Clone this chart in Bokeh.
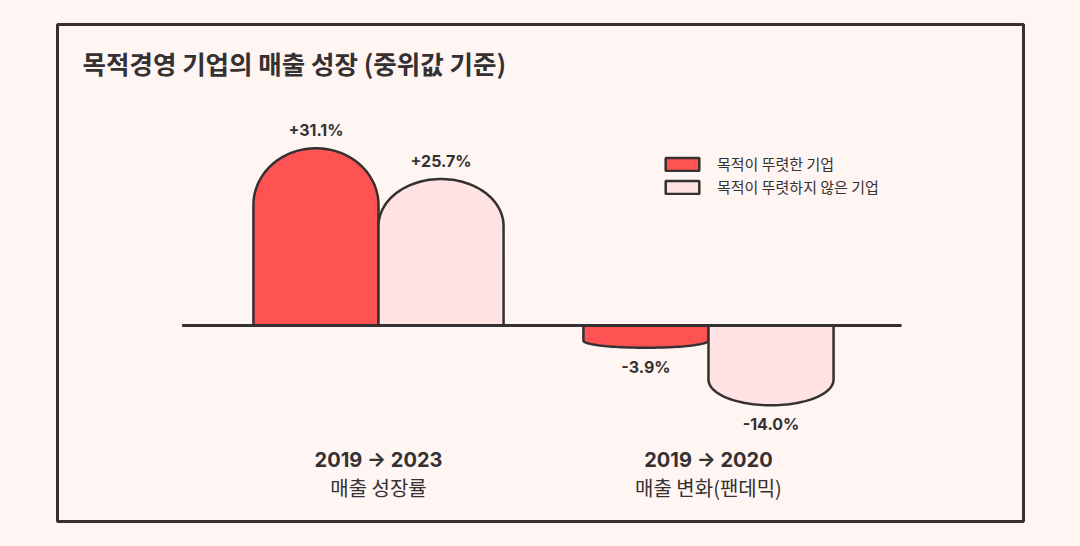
import numpy as np
from bokeh.plotting import figure
from bokeh.models import Range1d, Label, Legend, LegendItem, ColumnDataSource
from bokeh.core.properties import value
from bokeh.embed import file_html
from bokeh.resources import INLINE

# ---- data ----
groups = ["2019 → 2023", "2019 → 2020"]
group_sub = ["매출 성장률", "매출 변화(팬데믹)"]
series_names = ["목적이 뚜렷한 기업", "목적이 뚜렷하지 않은 기업"]
purpose_vals = [31.1, -3.9]
nonpurpose_vals = [25.7, -14.0]
title_text = "목적경영 기업의 매출 성장 (중위값 기준)"

# ---- style ----
BG = "#fff5f3"
INK = "#353131"
RED = "#ff5252"
PINK = "#ffe2e2"
KR = "Noto Sans CJK KR"
NUM = "Inter"
BAR_W = 0.379      # in group units
CAP = 0.32         # cap height as share of bar length

p = figure(width=1064, height=530, output_backend="svg", toolbar_location=None,
           x_axis_location=None, y_axis_location=None,
           x_range=Range1d(-0.4727, 2.4546), y_range=Range1d(-34.39, 52.81),
           min_border_left=49, min_border_right=49, min_border_top=16, min_border_bottom=17,
           background_fill_color=BG, border_fill_color=BG,
           outline_line_color=INK, outline_line_width=3)
p.grid.visible = False

centers = np.arange(len(groups)) + 0.5


def bar_shape(cx, v, w):
    s = 1.0 if v >= 0 else -1.0
    h = CAP * abs(v)
    ys0 = v - s * h
    th = np.linspace(0, np.pi, 60)
    ex = cx + (w / 2) * np.cos(th)
    ey = ys0 + s * h * np.sin(th)
    xs = np.concatenate([[cx - w / 2, cx + w / 2], ex, [cx - w / 2]])
    ys = np.concatenate([[0, 0], ey, [0]])
    return list(xs), list(ys)


renderers = []
for k, (vals, col) in enumerate([(purpose_vals, RED), (nonpurpose_vals, PINK)]):
    off = (-0.5 if k == 0 else 0.5) * BAR_W
    xs, ys = [], []
    for c, v in zip(centers, vals):
        a, b = bar_shape(c + off, v, BAR_W)
        xs.append(a)
        ys.append(b)
    r = p.patches(xs=xs, ys=ys, fill_color=col, line_color=INK, line_width=2.5)
    renderers.append(r)
    lx = list(centers + off)
    src = ColumnDataSource(dict(x=lx, y=vals, t=[f"{v:+.1f}%" for v in vals],
                                o=[-18 if v >= 0 else 19 for v in vals]))
    p.text(x="x", y="y", text="t", y_offset="o", source=src, text_align="center",
           text_baseline="middle", text_font=value(NUM), text_font_style="bold",
           text_font_size="16px", text_color=INK)

# zero line
p.segment(x0=[centers[0] - 0.595], y0=[0], x1=[centers[-1] + 0.585], y1=[0],
          line_color=INK, line_width=3)

# category labels
p.text(x=list(centers), y=[0] * len(centers), text=groups, y_offset=135,
       text_align="center", text_baseline="middle", text_font=value(NUM),
       text_font_style="bold", text_font_size="20px", text_color=INK)
p.text(x=list(centers), y=[0] * len(centers), text=group_sub, y_offset=162,
       text_align="center", text_baseline="middle", text_font=value(KR),
       text_font_size="20px", text_color=INK)

# title
p.add_layout(Label(x=25, y=459, x_units="screen", y_units="screen", text=title_text,
                   text_baseline="middle", text_font=KR, text_font_style="bold",
                   text_font_size="25.5px", text_color=INK))

legend = Legend(items=[LegendItem(label=n, renderers=[r]) for n, r in zip(series_names, renderers)],
                location=(604, 324), orientation="vertical",
                glyph_width=42, glyph_height=16, label_height=16, spacing=2,
                label_standoff=14, padding=0, margin=0,
                label_text_font=KR, label_text_font_size="15px", label_text_color=INK,
                border_line_alpha=0, background_fill_alpha=0)
p.add_layout(legend)

html = file_html(p, INLINE)
html = html.replace("</head>", "<style>html,body{background:%s !important;height:auto !important}"
                    "body{margin:8px !important}</style></head>" % BG, 1)
open("out.html", "w").write(html)
